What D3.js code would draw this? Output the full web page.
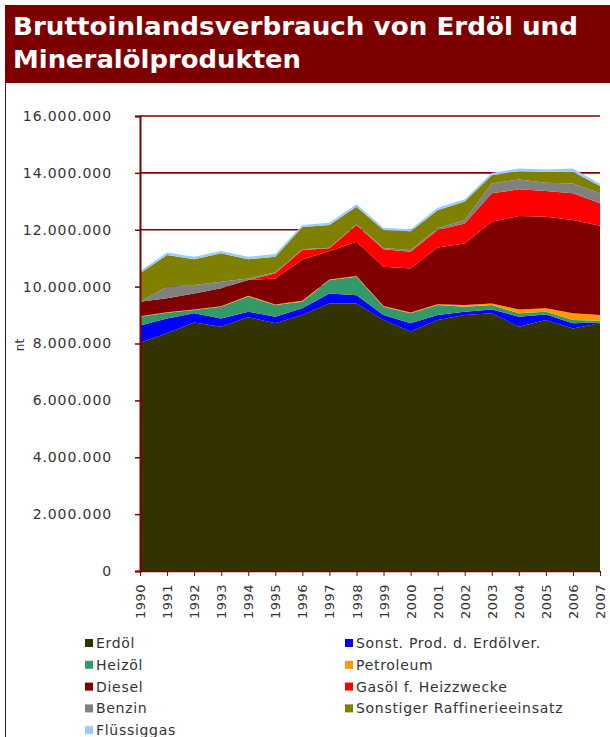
<!DOCTYPE html>
<html><head><meta charset="utf-8">
<script src="https://cdn.jsdelivr.net/npm/d3@7"></script>
<style>
html,body{margin:0;padding:0;background:#fff;}
svg{display:block;}
</style>
</head><body>
<svg id="chart" width="610" height="737"></svg>
<script>
const years = [1990,1991,1992,1993,1994,1995,1996,1997,1998,1999,2000,2001,2002,2003,2004,2005,2006,2007];
const seriesNames = ["Erdöl","Sonst. Prod. d. Erdölver.","Heizöl","Petroleum","Diesel","Gasöl f. Heizzwecke","Benzin","Sonstiger Raffinerieeinsatz","Flüssiggas"];
const seriesColors = ["#333300","#0000ff","#339966","#ff9900","#800000","#ff0000","#808080","#808000","#99ccff"];
const erdoel      = [8030000,8360000,8740000,8590000,8920000,8710000,9000000,9410000,9410000,8830000,8420000,8830000,9000000,9060000,8590000,8830000,8530000,8710000];
const sonstProd   = [600000,520000,320000,290000,200000,230000,240000,350000,290000,170000,290000,170000,120000,140000,350000,190000,180000,30000];
const heizoel     = [310000,200000,120000,410000,530000,410000,230000,470000,650000,290000,350000,350000,170000,150000,120000,100000,120000,60000];
const petroleum   = [20000,20000,20000,20000,30000,20000,30000,20000,20000,30000,30000,30000,60000,60000,140000,120000,230000,200000];
const diesel      = [510000,490000,560000,630000,550000,920000,1450000,1000000,1210000,1380000,1550000,2000000,2170000,2870000,3280000,3220000,3280000,3140000];
const gasoel      = [0,0,0,0,0,180000,340000,100000,590000,610000,590000,610000,700000,1000000,940000,900000,940000,790000];
const benzin      = [0,410000,300000,230000,60000,30000,20000,20000,20000,50000,60000,60000,120000,350000,350000,290000,350000,350000];
const sonstRaff   = [1000000,1110000,900000,1000000,670000,550000,790000,800000,620000,630000,660000,640000,650000,290000,290000,390000,410000,260000];
const fluessiggas = [80000,90000,90000,80000,90000,100000,70000,80000,90000,80000,70000,80000,80000,80000,90000,80000,110000,80000];
const yTicks = [0,2000000,4000000,6000000,8000000,10000000,12000000,14000000,16000000];
const yLabel = "nt";
const titleLines = ["Bruttoinlandsverbrauch von Erdöl und","Mineralölprodukten"];

const allSeries = [erdoel,sonstProd,heizoel,petroleum,diesel,gasoel,benzin,sonstRaff,fluessiggas];
const table = years.map((yr,i)=>{ const o={year:yr}; seriesNames.forEach((n,k)=>o[n]=allSeries[k][i]); return o; });

const svg = d3.select("#chart");
const font = "'DejaVu Sans', Verdana, sans-serif";
const dark = "#800000";

// title bar
svg.append("rect").attr("x",5).attr("y",5).attr("width",605).attr("height",78).attr("fill","#7d0000");
const tt = svg.append("text").attr("font-family",font).attr("font-weight","bold").attr("font-size",25).attr("fill","#fff");
tt.append("tspan").attr("x",13).attr("y",35).text(titleLines[0]).attr("textLength",565).attr("lengthAdjust","spacingAndGlyphs");
tt.append("tspan").attr("x",13).attr("y",68).text(titleLines[1]).attr("textLength",288).attr("lengthAdjust","spacingAndGlyphs");
// left border
svg.append("line").attr("x1",5.5).attr("x2",5.5).attr("y1",83).attr("y2",737).attr("stroke","#222").attr("stroke-width",1);

const x = d3.scaleLinear().domain([1990,2007]).range([140,600]);
const y = d3.scaleLinear().domain([0,16000000]).range([571,116]);
const de = d3.formatLocale({decimal:",",thousands:".",grouping:[3],currency:["","€"]});
const fmt = de.format(",d");

// gridlines
svg.append("g").selectAll("line").data(yTicks.filter(d=>d>0)).join("line")
  .attr("x1",140).attr("x2",600).attr("y1",d=>y(d)).attr("y2",d=>y(d))
  .attr("stroke",dark).attr("stroke-width",1.6);

// stacked areas
const stack = d3.stack().keys(seriesNames);
const layers = stack(table);
const area = d3.area().x(d=>x(d.data.year)).y0(d=>y(d[0])).y1(d=>y(d[1]));
svg.append("g").selectAll("path").data(layers).join("path")
  .attr("d",area).attr("fill",(d,i)=>seriesColors[i]);

// y axis
const yAxis = svg.append("g").attr("transform","translate(140,0)")
  .call(d3.axisLeft(y).tickValues(yTicks).tickFormat(fmt).tickSize(5).tickPadding(23));
yAxis.select(".domain").attr("stroke",dark).attr("stroke-width",2);
yAxis.selectAll(".tick line").attr("stroke",dark).attr("stroke-width",1.5);
yAxis.selectAll(".tick text").attr("font-family",font).attr("font-size",14).attr("letter-spacing",0.9).attr("fill","#333");

// x axis
const xAxis = svg.append("g").attr("transform","translate(0,571)")
  .call(d3.axisBottom(x).tickValues(years).tickFormat(d=>String(d)).tickSize(5).tickSizeOuter(0));
xAxis.select(".domain").attr("stroke",dark).attr("stroke-width",1.5);
xAxis.selectAll(".tick line").attr("stroke",dark).attr("stroke-width",1);
xAxis.selectAll(".tick text").attr("font-family",font).attr("font-size",13).attr("letter-spacing",0.5).attr("fill","#333")
  .attr("transform","rotate(-90)").attr("text-anchor","end").attr("x",-13).attr("y",0).attr("dy","0.35em");

// y label
svg.append("text").attr("transform","translate(24,345) rotate(-90)").attr("text-anchor","middle")
  .attr("font-family",font).attr("font-size",12).attr("fill","#333").text(yLabel);

// legend
const leg = svg.append("g");
seriesNames.forEach((n,i)=>{
  const col = i%2, row = Math.floor(i/2);
  const lx = col===0 ? 85 : 345, ly = 643 + row*21.8;
  leg.append("rect").attr("x",lx).attr("y",ly-4).attr("width",8).attr("height",8).attr("fill",seriesColors[i]);
  leg.append("text").attr("x",lx+11).attr("y",ly).attr("dy","0.35em").attr("font-family",font).attr("font-size",14).attr("letter-spacing",0.7).attr("fill","#333").text(n);
});
</script>
</body></html>
